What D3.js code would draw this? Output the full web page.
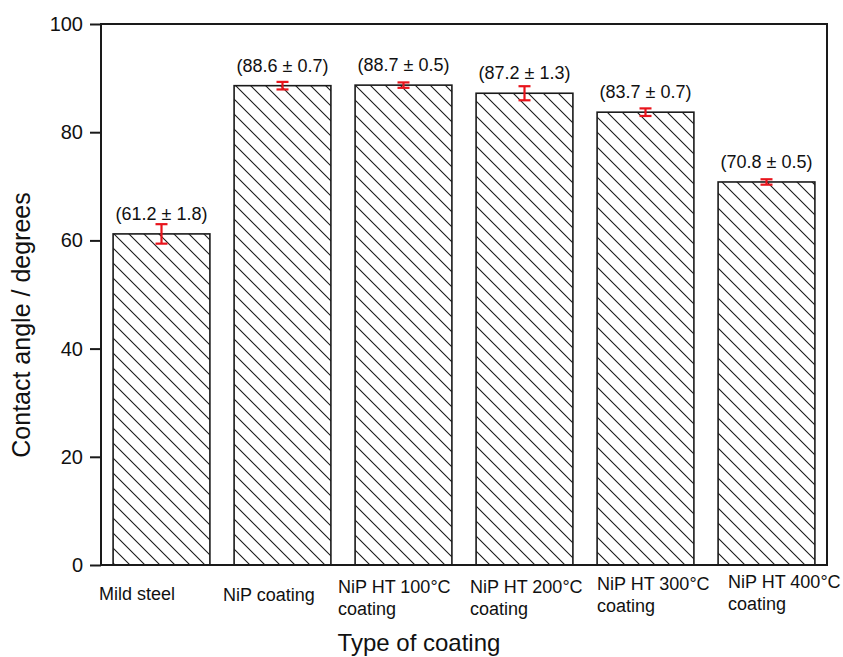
<!DOCTYPE html>
<html>
<head>
<meta charset="utf-8">
<script src="https://cdn.jsdelivr.net/npm/d3@7"></script>
<style>
  html, body { margin: 0; padding: 0; background: #fff; }
  svg { display: block; font-family: "Liberation Sans", Arial, Helvetica, sans-serif; }
</style>
</head>
<body>
<svg id="chart" width="843" height="657"></svg>
<script>
// Contact angle measurements per surface type
const categories = ["Mild steel", "NiP coating", "NiP HT 100°C coating",
  "NiP HT 200°C coating", "NiP HT 300°C coating", "NiP HT 400°C coating"];
const categoryLines = [
  ["Mild steel"], ["NiP coating"],
  ["NiP HT 100°C", "coating"], ["NiP HT 200°C", "coating"],
  ["NiP HT 300°C", "coating"], ["NiP HT 400°C", "coating"]
];
const angles = [61.2, 88.6, 88.7, 87.2, 83.7, 70.8];
const errors = [1.8, 0.7, 0.5, 1.3, 0.7, 0.5];
const yTicks = [0, 20, 40, 60, 80, 100];

// Layout
const plotLeft = 101, plotRight = 827, plotTop = 24, plotBottom = 565;
// hand-tuned horizontal start of each category label, relative to bar centre
const labelDx = [-62.5, -59.5, -65.5, -54.5, -48.5, -38.5];
const labelBaseline = [600, 601, 593, 593, 590, 588];

const svg = d3.select("#chart");

const x = d3.scaleBand().domain(categories).range([plotLeft, plotRight])
  .paddingInner(0.2).paddingOuter(0.1);
const y = d3.scaleLinear().domain([0, 100]).range([plotBottom, plotTop]);

// diagonal hatch fill
const defs = svg.append("defs");
const pat = defs.append("pattern")
  .attr("id", "hatch").attr("patternUnits", "userSpaceOnUse")
  .attr("width", 15).attr("height", 15);
pat.append("path")
  .attr("d", "M0,0 L15,15 M-4,11 L4,19 M11,-4 L19,4")
  .attr("stroke", "#1a1a1a").attr("stroke-width", 1.1).attr("fill", "none");

// bars
const bars = svg.append("g");
bars.selectAll("rect").data(categories).join("rect")
  .attr("x", d => x(d))
  .attr("y", (d, i) => y(angles[i]))
  .attr("width", x.bandwidth())
  .attr("height", (d, i) => y(0) - y(angles[i]))
  .attr("fill", "url(#hatch)")
  .attr("stroke", "#1a1a1a").attr("stroke-width", 1.6);

// error bars
const cap = 6;
const eb = svg.append("g").attr("stroke", "#e8141c").attr("stroke-width", 2.2);
categories.forEach((c, i) => {
  const cx = x(c) + x.bandwidth() / 2;
  const y1 = y(angles[i] + errors[i]), y2 = y(angles[i] - errors[i]);
  eb.append("line").attr("x1", cx).attr("x2", cx).attr("y1", y1).attr("y2", y2);
  eb.append("line").attr("x1", cx - cap).attr("x2", cx + cap).attr("y1", y1).attr("y2", y1);
  eb.append("line").attr("x1", cx - cap).attr("x2", cx + cap).attr("y1", y2).attr("y2", y2);
});

// value labels
svg.append("g").selectAll("text").data(categories).join("text")
  .attr("x", d => x(d) + x.bandwidth() / 2)
  .attr("y", (d, i) => y(angles[i]) - 14)
  .attr("text-anchor", "middle")
  .attr("font-size", 18).attr("fill", "#111")
  .text((d, i) => `(${angles[i].toFixed(1)} ± ${errors[i].toFixed(1)})`);

// frame
svg.append("rect")
  .attr("x", plotLeft).attr("y", plotTop)
  .attr("width", plotRight - plotLeft).attr("height", plotBottom - plotTop)
  .attr("fill", "none").attr("stroke", "#1a1a1a").attr("stroke-width", 2);

// y axis
const yAxis = svg.append("g")
  .attr("transform", `translate(${plotLeft},0)`)
  .call(d3.axisLeft(y).tickValues(yTicks).tickSize(11).tickPadding(7).tickFormat(d3.format("d")));
yAxis.select(".domain").remove();
yAxis.selectAll(".tick line").attr("stroke", "#1a1a1a").attr("stroke-width", 2);
yAxis.selectAll(".tick text")
  .attr("font-size", 20).attr("fill", "#111")
  .attr("font-family", "'Liberation Sans', Arial, sans-serif");

// category labels
const cl = svg.append("g").attr("font-size", 18).attr("fill", "#111");
categories.forEach((c, i) => {
  const cx = x(c) + x.bandwidth() / 2;
  const t = cl.append("text")
    .attr("x", cx + labelDx[i]).attr("y", labelBaseline[i]);
  categoryLines[i].forEach((ln, j) => {
    t.append("tspan")
      .attr("x", cx + labelDx[i])
      .attr("dy", j === 0 ? 0 : 22)
      .text(ln);
  });
});

// axis titles
svg.append("text")
  .attr("x", 419).attr("y", 651)
  .attr("text-anchor", "middle")
  .attr("font-size", 24).attr("fill", "#111")
  .text("Type of coating");

svg.append("text")
  .attr("transform", "translate(30,325) rotate(-90)")
  .attr("text-anchor", "middle")
  .attr("font-size", 25).attr("fill", "#111")
  .text("Contact angle / degrees");
</script>
</body>
</html>
